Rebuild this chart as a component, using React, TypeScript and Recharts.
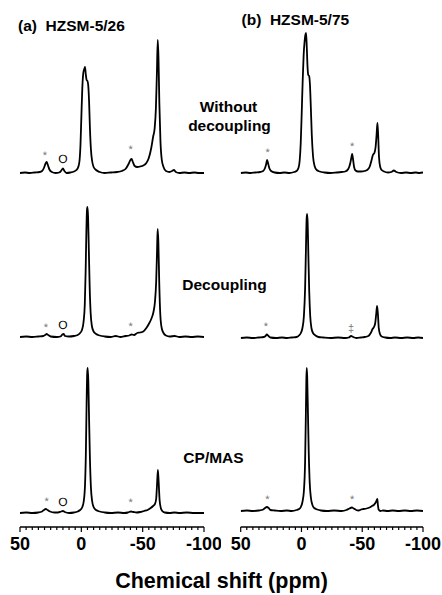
import React from "react";
import { ComposedChart, Line, Scatter, XAxis, YAxis } from "recharts";

// spectra: [ppm, intensity above baseline]
const specA1 = [
  [50, 0], [46, 0.5], [42, 0], [38, 0.5], [34, 1], [32, 2], [30.5, 5], [29.3, 9], [28.3, 11], [27.3, 8],
  [26, 3.5], [24, 1], [21, 0], [18, 0.5], [16.3, 2.5], [15, 4.5], [13.8, 2], [12, 0], [9, 0.5], [6, 1.5],
  [4, 3], [2.5, 6], [1.5, 12], [0.7, 28], [0, 55], [-0.8, 85], [-1.6, 100], [-2.4, 104], [-3, 106], [-3.6, 99],
  [-4.3, 93], [-5, 92], [-5.6, 88], [-6.3, 72], [-7, 45], [-7.8, 24], [-8.8, 12], [-10, 6], [-12, 3], [-15, 1],
  [-19, 0], [-24, 0.5], [-29, 1], [-33, 2], [-36, 4], [-38.5, 9], [-40, 13], [-41, 14], [-42, 11], [-43.5, 7],
  [-45.5, 6], [-48, 6.5], [-50.5, 7.5], [-53, 10], [-55, 15], [-57, 25], [-58.5, 36], [-59.8, 45], [-60.8, 65], [-61.6, 100],
  [-62.3, 133], [-62.9, 115], [-63.6, 70], [-64.5, 32], [-65.5, 14], [-67, 6], [-69, 2], [-72, 1], [-74, 2], [-75.5, 3],
  [-77, 1], [-80, 0], [-84, 0.5], [-88, 0], [-92, 0.5], [-96, 0], [-100, 0],
];
const specA2 = [
  [50, 0], [45, 0.5], [40, 0], [35, 0.5], [31, 1], [29.5, 2], [28.3, 3], [27, 2], [25, 0.5], [20, 0],
  [17, 0.5], [15.5, 2.5], [14.5, 3], [13.3, 1], [10, 0.5], [6, 1], [3, 2], [1, 4], [-0.5, 7], [-1.8, 15],
  [-2.8, 32], [-3.5, 65], [-4.1, 105], [-4.6, 127], [-5, 130], [-5.5, 120], [-6.1, 88], [-6.8, 50], [-7.6, 24], [-8.6, 11],
  [-10, 5.5], [-12, 3], [-15, 1.5], [-19, 0.5], [-24, 0], [-28, 1], [-32, 0], [-36, 1], [-39, 1.5], [-41, 2.5],
  [-43, 2], [-45.5, 4], [-48, 4.5], [-50.5, 5.5], [-53, 9], [-55, 13], [-57, 18], [-58.8, 25], [-60, 35], [-61, 55],
  [-61.7, 85], [-62.2, 108], [-62.8, 95], [-63.5, 55], [-64.4, 22], [-65.5, 9], [-67, 4], [-69, 1.5], [-72, 0.5], [-76, 1],
  [-80, 0], [-85, 0.5], [-90, 0], [-95, 0.5], [-100, 0],
];
const specA3 = [
  [50, 0], [45, 0.5], [40, 0], [35, 0.5], [32, 1.5], [30.5, 3], [29, 4], [27.5, 3], [25.5, 1.5], [22, 0.5],
  [19, 0.5], [16.5, 1.5], [15, 2], [13.5, 1], [10, 0], [6, 0.5], [3, 1.5], [1, 3], [-0.8, 6], [-2, 12],
  [-3, 28], [-3.7, 60], [-4.3, 110], [-4.8, 140], [-5.2, 145], [-5.7, 132], [-6.3, 95], [-7, 55], [-7.8, 26], [-8.8, 12],
  [-10, 6], [-12, 3], [-15, 1.5], [-19, 0.5], [-24, 0], [-30, 0.5], [-35, 0], [-38, 0.5], [-40.5, 1.5], [-42.5, 1],
  [-45, 0.5], [-48, 1], [-51, 2], [-54, 3], [-56.5, 5], [-58.5, 7], [-60, 9], [-61, 14], [-61.7, 28], [-62.4, 43],
  [-63, 32], [-63.8, 13], [-64.8, 5], [-66, 2], [-68, 0.5], [-72, 0], [-76, 0.5], [-80, 0], [-86, 0.5], [-92, 0],
  [-100, 0],
];
const specB1 = [
  [50, 0], [46, 0.5], [42, 0], [38, 0.5], [34, 1], [31.5, 2], [30, 5], [29, 9], [28.3, 13], [27.5, 10],
  [26.5, 5], [25, 2], [22, 0.5], [18, 0], [14, 0.5], [10, 0], [6, 1], [4, 2], [2.5, 5], [1.5, 12],
  [0.6, 30], [-0.2, 60], [-1, 92], [-1.8, 118], [-2.6, 132], [-3.2, 138], [-3.8, 140], [-4.4, 125], [-5, 106], [-5.6, 98],
  [-6.3, 97], [-7, 88], [-7.7, 66], [-8.5, 38], [-9.5, 17], [-10.8, 7], [-12.5, 3], [-15, 1.5], [-19, 0.5], [-24, 0],
  [-29, 0.5], [-33, 1], [-36, 1.5], [-38.5, 4], [-40, 9], [-41, 15], [-41.7, 19], [-42.4, 14], [-43.3, 6], [-44.5, 2.5],
  [-46.5, 1.5], [-49, 1.5], [-52, 2], [-54, 3], [-56, 6], [-57.5, 12], [-58.8, 18], [-60, 20], [-61, 26], [-61.8, 38],
  [-62.5, 50], [-63.1, 38], [-63.8, 16], [-64.8, 6], [-66, 3], [-68, 1.5], [-71, 0.5], [-74, 1], [-76, 2.5], [-78, 1],
  [-82, 0], [-86, 0.5], [-90, 0], [-94, 0.5], [-97, 0], [-100, 0.5],
];
const specB2 = [
  [50, 0], [45, 0.5], [40, 0], [35, 0.5], [31, 1], [29.5, 2], [28.5, 3.5], [27.5, 2.5], [25.5, 0.5], [21, 0],
  [16, 0.5], [12, 0], [8, 0.5], [4, 1], [2, 2.5], [0.5, 5], [-0.8, 10], [-2, 22], [-3, 50], [-3.7, 90],
  [-4.2, 118], [-4.6, 124], [-5.1, 115], [-5.7, 82], [-6.4, 46], [-7.2, 22], [-8.2, 10], [-9.5, 5], [-11.5, 2.5], [-14, 1],
  [-18, 0.5], [-24, 0], [-30, 0.5], [-36, 0], [-39, 0.5], [-40.8, 2], [-42.5, 1], [-45, 0], [-49, 0.5], [-52, 1],
  [-55, 2], [-57, 5], [-58.5, 9], [-59.7, 11], [-60.7, 15], [-61.5, 24], [-62.2, 32], [-62.9, 24], [-63.6, 10], [-64.6, 4],
  [-66, 1.5], [-69, 0.5], [-73, 0], [-77, 0.5], [-82, 0], [-87, 0.5], [-92, 0], [-96, 0.5], [-100, 0],
];
const specB3 = [
  [50, 0], [45, 0.5], [40, 0], [35, 0.5], [31.5, 1.5], [30, 3], [28.5, 4], [27, 3], [25.5, 1], [22, 0.5],
  [17, 0], [12, 0.5], [8, 0], [4, 1], [2, 2], [0.5, 4], [-0.8, 9], [-2, 20], [-3, 50], [-3.6, 95],
  [-4, 130], [-4.3, 143], [-4.7, 135], [-5.3, 100], [-6, 58], [-6.8, 28], [-7.8, 13], [-9, 6], [-10.5, 3], [-13, 1.5],
  [-16, 0.5], [-21, 0], [-27, 0.5], [-33, 0], [-37, 1], [-39.5, 2.5], [-41.5, 3.5], [-43, 2.5], [-45, 1], [-47, 0.5],
  [-49, 1.5], [-51, 2], [-53.5, 2.5], [-56, 3.5], [-58, 5], [-59.5, 6], [-60.8, 8], [-61.7, 10], [-62.4, 12], [-62.9, 6],
  [-63.5, 1.5], [-65, 0], [-67, 0.5], [-71, 0], [-75, 0.5], [-80, 0], [-85, 0.5], [-90, 0], [-95, 0.5], [-100, 0],
];

// sideband (*) and impurity (O) markers: [ppm, height above baseline, symbol]
const notesA1 = [[29.6, 19, "*"], [14.9, 14, "O"], [-40.3, 25, "*"]];
const notesA2 = [[28.8, 11, "*"], [14.9, 12, "O"], [-40.3, 12, "*"]];
const notesA3 = [[28.3, 13, "*"], [14.9, 11, "O"], [-40.3, 12, "*"]];
const notesB1 = [[27.8, 22, "*"], [-41.7, 28, "*"]];
const notesB2 = [[29.2, 13, "*"], [-40.8, 11, "‡"]];
const notesB3 = [[28, 13, "*"], [-41.7, 13, "*"]];

const xTicks = [50, 45, 40, 35, 30, 25, 20, 15, 10, 5, 0, -5, -10, -15, -20, -25, -30, -35, -40, -45, -50, -55, -60, -65, -70, -75, -80, -85, -90, -95, -100];

// vertical stacking of the three traces in each panel
const offsetsA = [354, 190, 14];
const offsetsB = [354, 189, 16];

const FONT = '"Liberation Sans", Arial, Helvetica, sans-serif';

const toRows = (spec: number[][], off: number) => spec.map(([x, v]) => ({ x, y: v + off }));
const toNotes = (notes: any[][], off: number) => notes.map(([x, v, s]) => ({ x, y: v + off, s }));

const AxisTick = (props: any) => {
  const { x, y, payload } = props;
  const v = payload.value;
  const major = v % 50 === 0;
  return (
    <g>
      <line x1={x} x2={x} y1={y} y2={y + (major ? 5 : 3)} stroke="#000" strokeWidth={1.2} />
      {major && (
        <text x={x} y={y + 23} textAnchor="middle" fontSize={18} fontWeight="bold" fontFamily={FONT} fill="#000">
          {v}
        </text>
      )}
    </g>
  );
};

const NoteShape = (props: any) => {
  const { cx, cy, payload } = props;
  const star = payload.s !== "O";
  return (
    <text
      x={cx}
      y={cy + (star ? 5 : 4)}
      transform={`rotate(0.01 ${cx} ${cy})`}
      textAnchor="middle"
      fontSize={star ? 11 : 12}
      fontFamily={FONT}
      fill={star ? "#777" : "#000"}
      style={{ textRendering: "geometricPrecision" }}
    >
      {payload.s}
    </text>
  );
};

function Panel({ specs, notes, offsets, left, marginLeft, marginRight }: any) {
  return (
    <div style={{ position: "absolute", left, top: 0 }}>
      <ComposedChart
        width={221}
        height={560}
        margin={{ top: 20, right: marginRight, bottom: 0, left: marginLeft }}
      >
        <XAxis
          dataKey="x"
          type="number"
          domain={[-100, 50]}
          reversed
          ticks={xTicks}
          interval={0}
          height={33}
          tickSize={0}
          tickMargin={0}
          tickLine={false}
          axisLine={{ stroke: "#000", strokeWidth: 1.3 }}
          tick={<AxisTick />}
          allowDataOverflow
        />
        <YAxis type="number" domain={[0, 507]} hide allowDataOverflow />
        {specs.map((s: number[][], i: number) => (
          <Line
            key={`l${i}`}
            data={toRows(s, offsets[i])}
            dataKey="y"
            type="monotone"
            stroke="#000"
            strokeWidth={1.8}
            dot={false}
            isAnimationActive={false}
          />
        ))}
        {notes.map((n: any[][], i: number) => (
          <Scatter
            key={`n${i}`}
            data={toNotes(n, offsets[i])}
            dataKey="y"
            shape={<NoteShape />}
            isAnimationActive={false}
          />
        ))}
      </ComposedChart>
    </div>
  );
}

export default function App() {
  const bold = { fontFamily: FONT, fontWeight: "bold" as const, fill: "#000" };
  return (
    <div style={{ position: "absolute", left: 0, top: 0, width: 442, height: 595, background: "#fff", overflow: "hidden" }}>
      <Panel specs={[specA1, specA2, specA3]} notes={[notesA1, notesA2, notesA3]} offsets={offsetsA} left={0} marginLeft={20} marginRight={17} />
      <Panel specs={[specB1, specB2, specB3]} notes={[notesB1, notesB2, notesB3]} offsets={offsetsB} left={221} marginLeft={19.7} marginRight={19} />
      <svg width={442} height={595} style={{ position: "absolute", left: 0, top: 0, pointerEvents: "none" }}>
        <text x={18} y={31} fontSize={15.5} style={{ whiteSpace: "pre" }} {...bold}>(a)  HZSM-5/26</text>
        <text x={241.5} y={25} fontSize={15.5} style={{ whiteSpace: "pre" }} {...bold}>(b)  HZSM-5/75</text>
        <text x={228.5} y={112} fontSize={15.5} textAnchor="middle" {...bold}>Without</text>
        <text x={229.5} y={131} fontSize={15.5} textAnchor="middle" {...bold}>decoupling</text>
        <text x={224.5} y={289.5} fontSize={15.5} textAnchor="middle" {...bold}>Decoupling</text>
        <text x={213.5} y={462.5} fontSize={15.5} textAnchor="middle" {...bold}>CP/MAS</text>
        <text x={221.5} y={588} fontSize={21.5} textAnchor="middle" {...bold}>Chemical shift (ppm)</text>
      </svg>
    </div>
  );
}
